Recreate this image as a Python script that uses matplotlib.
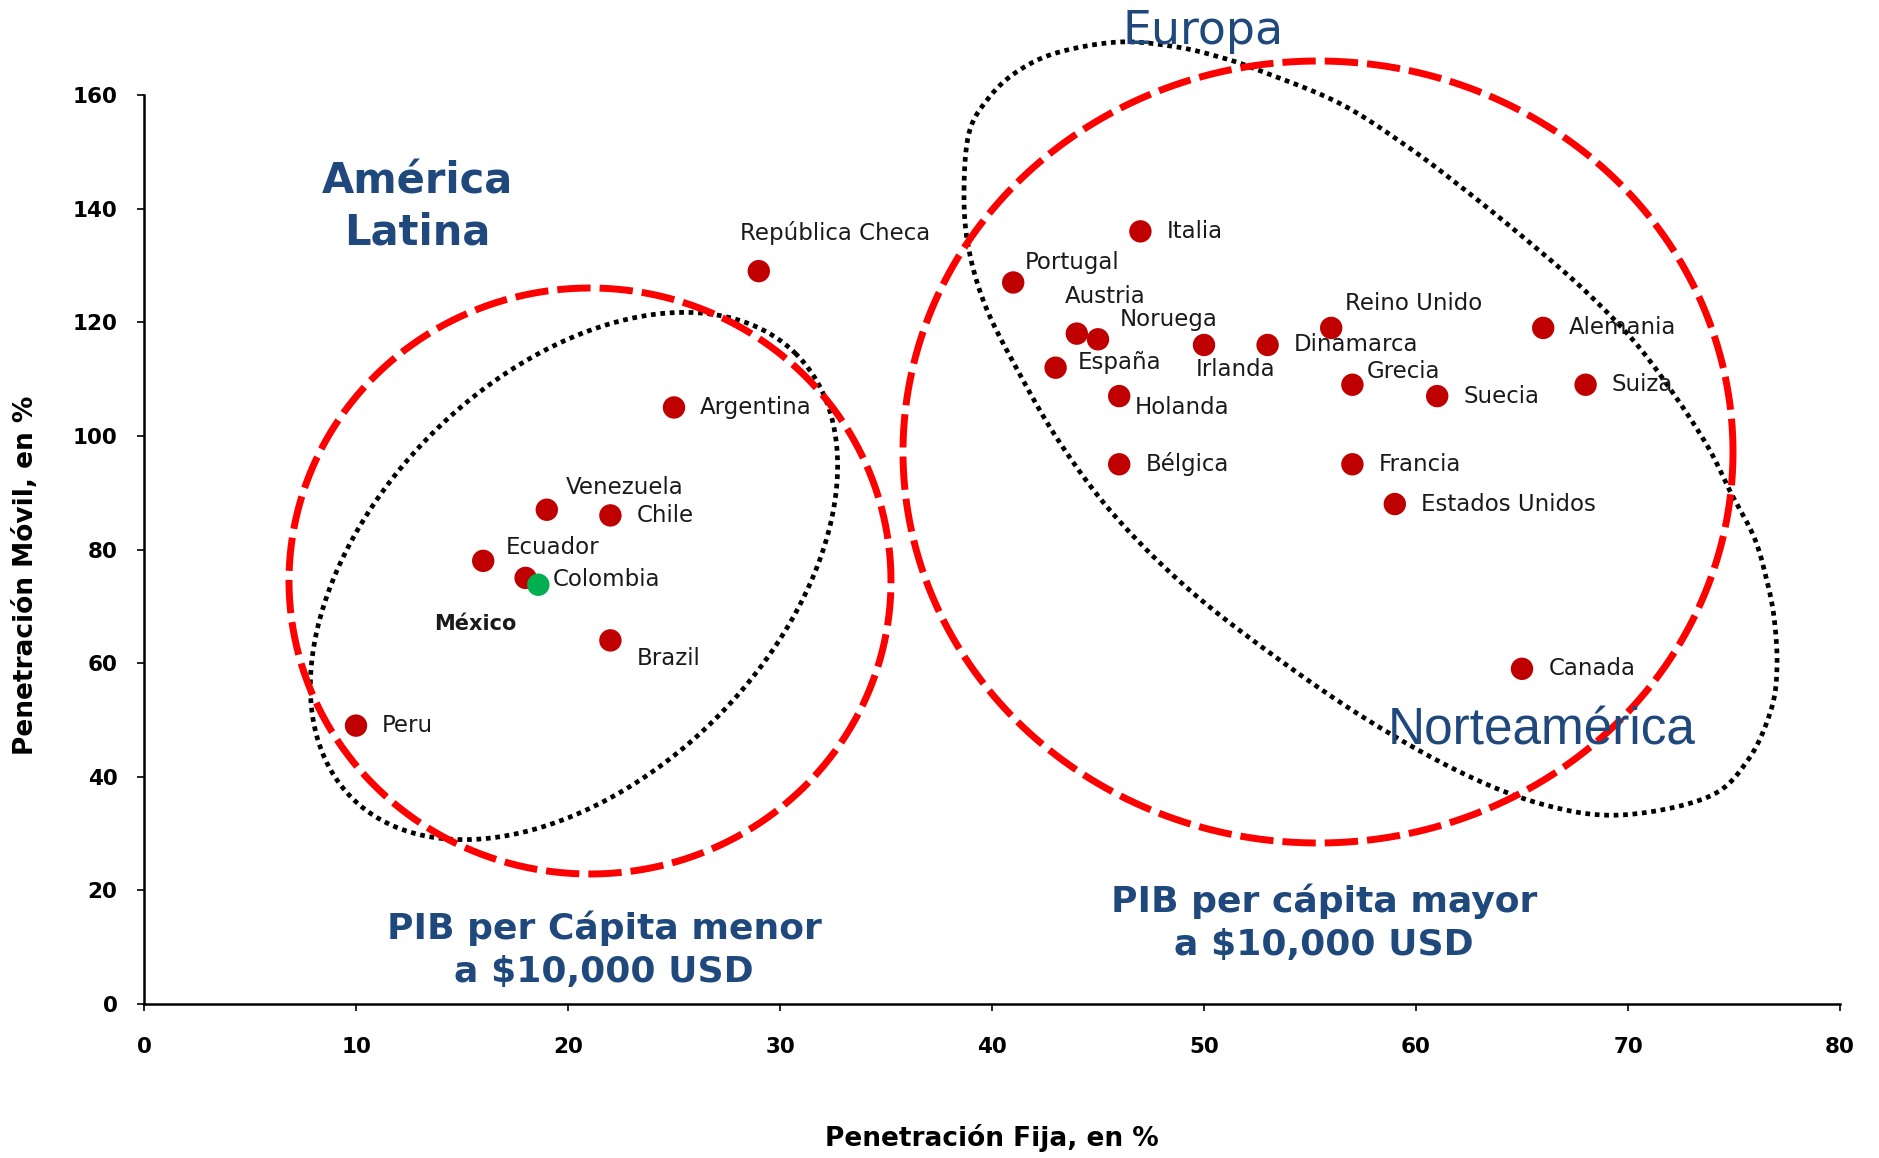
import numpy as np
import matplotlib
matplotlib.use("Agg")
import matplotlib.pyplot as plt

# ---------------- data ----------------
countries = ["República Checa", "Argentina", "Venezuela", "Chile", "Ecuador",
             "México", "Brazil", "Peru", "Italia", "Portugal", "Austria",
             "Noruega", "España", "Irlanda", "Dinamarca", "Reino Unido",
             "Holanda", "Bélgica", "Grecia", "Suecia", "Francia",
             "Estados Unidos", "Alemania", "Suiza", "Canada"]
fija = [29, 25, 19, 22, 16, 18, 22, 10, 47, 41, 44, 45, 43, 50, 53, 56,
        46, 46, 57, 61, 57, 59, 66, 68, 65]
movil = [129, 105, 87, 86, 78, 75, 64, 49, 136, 127, 118, 117, 112, 116, 116, 119,
         107, 95, 109, 107, 95, 88, 119, 109, 59]

colombia_name = "Colombia"
colombia_fija = [18.6]
colombia_movil = [73.8]

x_ticks = [0, 10, 20, 30, 40, 50, 60, 70, 80]
y_ticks = [0, 20, 40, 60, 80, 100, 120, 140, 160]

# label offsets (pixels; left edge of label relative to the point centre)
label_dx = [-19, 26, 19, 26, 23, -50, 26, 26, 26, 12, -12, 22, 22, -8, 26, 14,
            16, 27, 14, 26, 26, 26, 26, 26, 27]
label_dy = [38, 0, 22, 0, 13, -46, -18, 0, 0, 20, 37, 20, 5, -25, 0, 24,
            -11, 0, 13, 0, 0, 0, 0, 0, 0]
colombia_dx, colombia_dy = 14, 5

# ---------------- figure ----------------
W, H = 1879, 1158
fig = plt.figure(figsize=(W / 100, H / 100), dpi=100)
AX_L, AX_R, AX_T, AX_B = 144, 1840, 95, 1004
ax = fig.add_axes([AX_L / W, 1 - AX_B / H, (AX_R - AX_L) / W, (AX_B - AX_T) / H])
ax.set_xlim(0, 80)
ax.set_ylim(0, 160)

for s in ["top", "right"]:
    ax.spines[s].set_visible(False)
for s in ["left", "bottom"]:
    ax.spines[s].set_linewidth(1.8)
ax.set_xticks(x_ticks)
ax.set_yticks(y_ticks)
ax.tick_params(axis="both", direction="out", length=5, width=1.2, labelsize=15.5)
ax.tick_params(axis="x", pad=19)
ax.tick_params(axis="y", pad=14)
for lab in ax.get_xticklabels() + ax.get_yticklabels():
    lab.set_fontweight("bold")

BLUE = "#1F497D"


def to_fig(px, py):
    return np.asarray(px) / W, 1 - np.asarray(py) / H


def ellipse_px(cx, cy, a, b, ang, n=600):
    t = np.linspace(0, 2 * np.pi, n)
    th = np.radians(ang)
    x = cx + a * np.cos(t) * np.cos(th) - b * np.sin(t) * np.sin(th)
    yup = a * np.cos(t) * np.sin(th) + b * np.sin(t) * np.cos(th)
    return to_fig(x, cy - yup)


def catmull_closed(pts, n=30):
    P = np.array(pts, dtype=float)
    N = len(P)
    out = []
    t = np.linspace(0, 1, n, endpoint=False)[:, None]
    for i in range(N):
        p0, p1, p2, p3 = P[i - 1], P[i], P[(i + 1) % N], P[(i + 2) % N]
        out.append(0.5 * (2 * p1 + (-p0 + p2) * t + (2 * p0 - 5 * p1 + 4 * p2 - p3) * t ** 2
                          + (-p0 + 3 * p1 - 3 * p2 + p3) * t ** 3))
    out = np.vstack(out + [out[0][:1]])
    return to_fig(out[:, 0], out[:, 1])


dot_style = dict(color="black", lw=3.4, linestyle=(0, (1, 1)), transform=fig.transFigure,
                 clip_on=False, zorder=1, dash_capstyle="butt")
dash_style = dict(color="#FF0000", lw=5, linestyle=(0, (4.8, 1.3)), transform=fig.transFigure,
                  clip_on=False, zorder=2, dash_capstyle="butt")

# black dotted groupings (pixel outline of the reference shapes)
fx, fy = ellipse_px(574, 576, 314, 201, 45)
ax.plot(fx, fy, **dot_style)
egg = [(964, 190), (969, 133), (987, 100), (1015, 73), (1056, 53), (1119, 42),
       (1177, 47), (1223, 58), (1258, 70), (1339, 103), (1408, 147), (1465, 190),
       (1523, 237), (1581, 287), (1633, 340), (1673, 393), (1708, 447), (1731, 493),
       (1754, 537), (1766, 577), (1774, 617), (1777, 667), (1771, 710), (1748, 760),
       (1708, 797), (1621, 815), (1545, 805), (1462, 773), (1366, 719), (1270, 653),
       (1186, 587), (1114, 515), (1060, 443), (1018, 371), (985, 305), (968, 245)]
fx, fy = catmull_closed(egg)
ax.plot(fx, fy, **dot_style)

# red dashed groupings
fx, fy = ellipse_px(590, 581, 301, 293, 0)
ax.plot(fx, fy, **dash_style)
fx, fy = ellipse_px(1318, 452, 415, 391, 0)
ax.plot(fx, fy, **dash_style)

# points
ax.scatter(fija, movil, s=260, color="#C00000", edgecolors="none", zorder=3, clip_on=False)
ax.scatter(colombia_fija, colombia_movil, s=260, color="#00B050", edgecolors="none", zorder=3.5)

for name, x, y, dx, dy in zip(countries, fija, movil, label_dx, label_dy):
    if name == "México":
        ax.annotate(name, (x, y), xytext=(dx, dy), textcoords="offset pixels",
                    ha="center", va="center", fontsize=15, fontweight="bold",
                    color="#1a1a1a", zorder=4)
    else:
        ax.annotate(name, (x, y), xytext=(dx, dy), textcoords="offset pixels",
                    ha="left", va="center", fontsize=16.5, color="#1a1a1a", zorder=4)
ax.annotate(colombia_name, (colombia_fija[0], colombia_movil[0]),
            xytext=(colombia_dx, colombia_dy), textcoords="offset pixels",
            ha="left", va="center", fontsize=16.5, color="#1a1a1a", zorder=4)

# region titles
fig.text(417 / W, 1 - 207 / H, "América\nLatina", ha="center", va="center", fontsize=30,
         fontweight="bold", color=BLUE, linespacing=1.3, zorder=5)
fig.text(1203 / W, 1 - 32 / H, "Europa", ha="center", va="center", fontsize=33,
         color=BLUE, zorder=5)
fig.text(1542 / W, 1 - 731 / H, "Norteamérica", ha="center", va="center", fontsize=37,
         family="Liberation Sans", color=BLUE, zorder=5)
fig.text(604 / W, 1 - 950 / H, "PIB per Cápita menor\na $10,000 USD", ha="center",
         va="center", fontsize=26, fontweight="bold", color=BLUE, linespacing=1.35, zorder=5)
fig.text(1324 / W, 1 - 923 / H, "PIB per cápita mayor\na $10,000 USD", ha="center",
         va="center", fontsize=26, fontweight="bold", color=BLUE, linespacing=1.35, zorder=5)

# axis titles
fig.text(992 / W, 1 - 1138 / H, "Penetración Fija, en %", ha="center", va="center",
         fontsize=19, fontweight="bold")
fig.text(26 / W, 1 - 575 / H, "Penetración Móvil, en %", ha="center", va="center",
         fontsize=19, fontweight="bold", rotation=90)

fig.savefig("out.png", dpi=100)
